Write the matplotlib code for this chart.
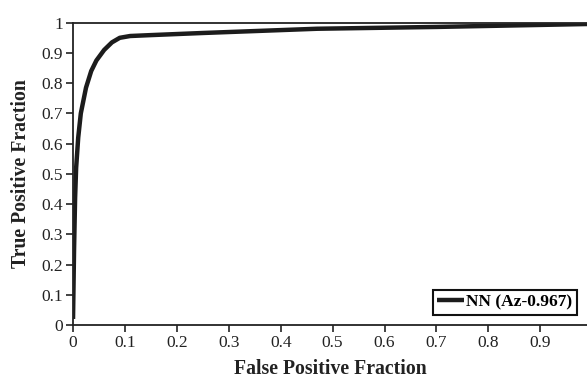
import matplotlib
matplotlib.use("Agg")
import matplotlib.pyplot as plt
import numpy as np

# ROC curve points
fpr = [0, 0.002, 0.004, 0.006, 0.010, 0.015, 0.025, 0.035, 0.045, 0.060, 0.075,
       0.090, 0.110, 0.150, 0.250, 0.470, 0.700, 1.000]
tpr = [0.02, 0.25, 0.42, 0.52, 0.62, 0.70, 0.785, 0.84, 0.875, 0.91, 0.935,
       0.950, 0.956, 0.959, 0.966, 0.980, 0.986, 0.996]
label = "NN (Az-0.967)"

xticks = np.arange(0, 1.0, 0.1)
xticklabels = ["0"] + ["%.1f" % v for v in xticks[1:]]
yticks = np.arange(0, 1.01, 0.1)
yticklabels = ["0"] + ["%.1f" % v for v in yticks[1:-1]] + ["1"]

plt.rcParams["font.family"] = "Liberation Serif"

fig = plt.figure(figsize=(5.87, 3.81), dpi=100)
ax = fig.add_axes([0.1244, 0.147, 0.8756, 0.7934])

ax.plot(fpr, tpr, color="#1c1c1c", lw=3.2, label=label, solid_capstyle="butt")

ax.set_xlim(0, 0.99)
ax.set_ylim(0, 1)
ax.set_xticks(xticks)
ax.set_xticklabels(xticklabels)
ax.set_yticks(yticks)
ax.set_yticklabels(yticklabels)
ax.tick_params(direction="out", length=5, width=1.2, labelsize=12.5, colors="#222222", pad=2)

for s in ["left", "bottom", "top"]:
    ax.spines[s].set_linewidth(1.3)
    ax.spines[s].set_color("#222222")
ax.spines["right"].set_visible(False)

ax.set_xlabel("False Positive Fraction", fontsize=14.2, fontweight="bold", color="#222222", labelpad=6)
ax.set_ylabel("True Positive Fraction", fontsize=14.2, fontweight="bold", color="#222222", labelpad=8)

leg = ax.legend(loc="lower right", fancybox=False, framealpha=1, edgecolor="#111111",
                prop={"weight": "bold", "size": 12.5}, handlelength=1.5, handletextpad=0.15,
                borderpad=0.25, borderaxespad=0.6)
leg.get_frame().set_linewidth(1.5)

fig.savefig("out.png", dpi=100)
